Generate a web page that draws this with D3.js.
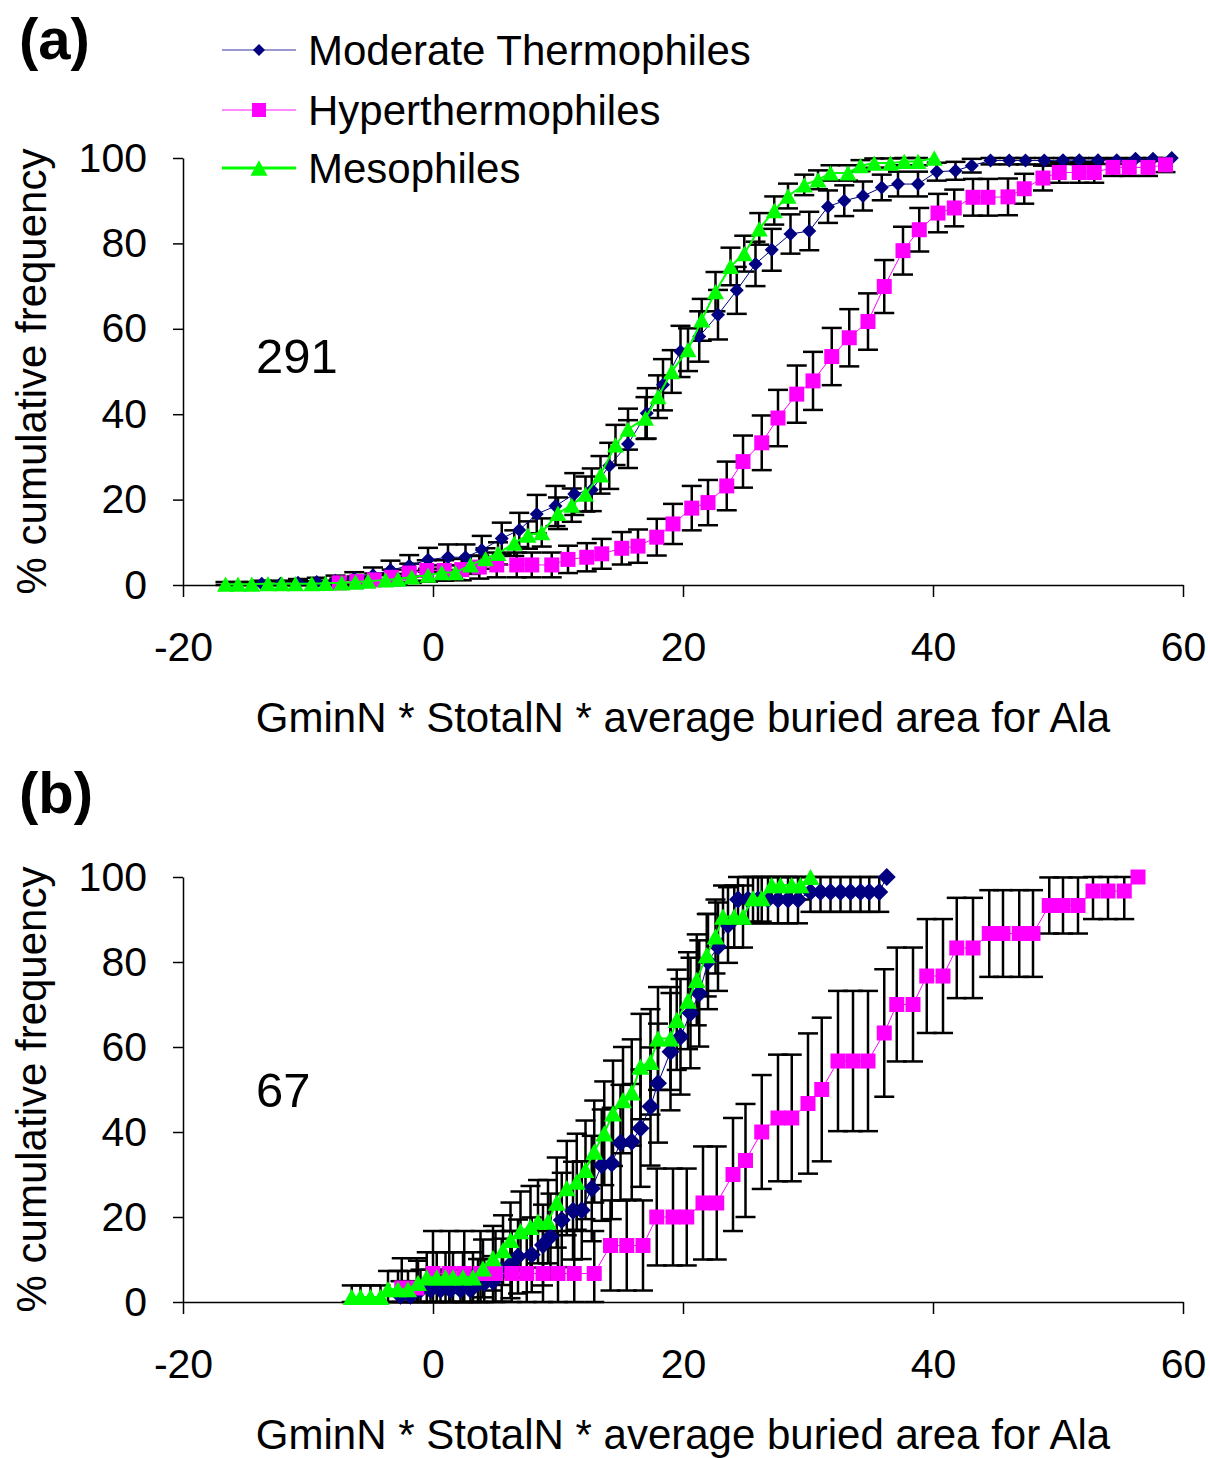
<!DOCTYPE html>
<html>
<head>
<meta charset="utf-8">
<script src="https://cdn.jsdelivr.net/npm/d3@7"></script>
<style>
body { margin: 0; background: #fff; }
text { font-family: "Liberation Sans", Arial, sans-serif; fill: #000; }
</style>
</head>
<body>
<script>
// series names and tick labels
const seriesNames = ['Moderate Thermophiles', 'Hyperthermophiles', 'Mesophiles'];
const xTicks = [-20, 0, 20, 40, 60];
const yTicks = [0, 20, 40, 60, 80, 100];
const panelLabels = ['(a)', '(b)'];
const panelCounts = ['291', '67'];
const xTitle = 'GminN * StotalN * average buried area for Ala';
const yTitle = '% cumulative frequency';

// panel (a) - moderate thermophiles
const aModX = [-13.7,-12.2,-10.8,-9.3,-7.8,-6.3,-4.8,-3.4,-1.9,-0.4,1.2,2.6,3.9,5.5,6.9,8.3,9.8,11.3,12.7,14.1,15.6,17.1,18.4,19.8,21.3,22.8,24.3,25.8,27.1,28.6,30.1,31.6,32.9,34.4,35.9,37.2,38.8,40.3,41.8,43.1,44.6,46.1,47.4,48.9,50.4,51.7,53.2,54.7,56.2,57.6,59.1];
const aModY = [0.3,0.3,0.5,0.7,1.0,1.5,2.3,3.5,4.5,5.9,6.5,6.5,8.2,10.9,12.9,16.6,18.5,21.3,22.3,27.9,33.0,40.2,46.9,54.7,58.2,63.3,69.0,75.2,78.5,82.2,82.9,88.6,90.0,91.1,93.1,93.9,93.9,96.8,97.0,98.2,99.4,99.4,99.4,99.4,99.5,99.5,99.5,99.5,99.8,99.8,100];
const aModErr = [0.7,0.7,0.9,1.0,1.2,1.5,1.8,2.2,2.5,2.8,3.0,3.0,3.3,3.7,4.0,4.5,4.7,4.9,5.0,5.4,5.6,5.9,6.0,6.0,5.9,5.8,5.5,5.2,4.9,4.6,4.5,3.8,3.6,3.4,3.0,2.9,2.9,2.1,2.1,1.6,0.9,0.9,0.9,0.9,0.9,0.9,0.9,0.9,0.5,0.5,0];

// panel (a) - hyperthermophiles
const aHypX = [-7.5,-6.1,-4.7,-3.3,-1.9,-0.5,0.9,2.3,3.7,5.1,6.7,7.9,9.5,10.8,12.3,13.5,15.1,16.4,17.9,19.2,20.7,22.0,23.5,24.8,26.3,27.6,29.1,30.4,31.9,33.3,34.8,36.1,37.6,38.9,40.4,41.7,43.2,44.4,46.0,47.3,48.8,50.1,51.7,52.9,54.4,55.7,57.2,58.6];
const aHypY = [0.5,0.8,1.2,1.8,2.8,3.4,3.4,3.6,4.2,4.7,4.7,4.7,4.7,6.0,6.5,7.3,8.6,9.1,11.2,14.3,18.0,19.3,23.2,28.9,33.3,39.1,44.7,47.8,53.5,57.9,61.7,69.9,78.3,83.2,87.1,88.3,90.8,90.8,90.9,92.8,95.3,96.6,96.6,96.6,97.8,97.8,97.8,98.4];
const aHypErr = [1.0,1.2,1.5,1.8,2.2,2.4,2.4,2.5,2.7,2.9,2.9,2.9,2.9,3.2,3.3,3.5,3.8,3.9,4.3,4.7,5.2,5.3,5.7,6.1,6.4,6.6,6.7,6.8,6.7,6.7,6.6,6.2,5.6,5.1,4.5,4.3,4.3,4.3,4.3,3.5,2.9,2.4,2.4,2.4,2.0,2.0,2.0,1.7];

// panel (a) - mesophiles
const aMesX = [-16.6,-15.6,-14.5,-13.2,-12.1,-11.0,-9.7,-8.6,-7.3,-6.2,-5.2,-3.8,-2.8,-1.7,-0.4,0.7,1.8,3.0,4.2,5.2,6.5,7.6,8.7,10.0,11.1,12.2,13.4,14.6,15.6,17.0,18.0,19.1,20.4,21.5,22.6,23.8,24.9,26.1,27.3,28.4,29.7,30.8,31.8,33.2,34.2,35.3,36.6,37.7,38.8,40.1];
const aMesY = [0.2,0.2,0.2,0.3,0.3,0.3,0.3,0.4,0.5,0.7,0.9,1.2,1.4,1.9,2.3,2.9,2.9,4.7,6.2,7.4,9.8,11.7,12.3,16.8,18.7,21.3,25.8,32.8,36.5,39.1,44.1,50.0,55.1,62.1,68.7,74.6,77.6,83.4,87.7,91.1,93.7,94.9,96.5,96.5,98.2,98.8,98.8,99.2,99.2,100];
const aMesErr = [0.5,0.5,0.5,0.6,0.6,0.6,0.6,0.6,0.7,0.8,0.9,1.1,1.2,1.4,1.5,1.7,1.7,2.1,2.4,2.6,3.0,3.2,3.3,3.7,3.9,4.1,4.4,4.7,4.8,4.9,5.0,5.0,5.0,4.9,4.6,4.4,4.2,3.7,3.3,2.9,2.4,2.2,1.8,1.8,1.3,1.1,1.1,0.9,0.9,0];

// panel (b) - moderate thermophiles
const bModX = [-2.6,-1.8,-1.0,-0.2,0.6,1.4,2.2,3.0,3.6,4.1,4.8,5.5,6.2,6.8,7.9,8.8,9.4,10.3,11.2,11.9,12.7,13.5,14.3,15.0,15.9,16.6,17.4,18.0,19.0,19.8,20.6,21.3,22.0,22.8,23.6,24.4,25.2,26.0,26.8,27.6,28.4,29.2,30.2,31.0,31.8,32.6,33.4,34.2,34.9,35.7,36.3];
const bModY = [1.5,1.5,2.9,2.9,2.9,2.9,2.9,2.9,4.4,4.4,4.8,7.5,8.8,10.7,11.1,13.4,15.4,19.3,21.5,21.6,26.7,32.2,32.6,37.5,37.7,40.9,46.0,51.5,58.9,62.4,68.0,72.6,80.1,83.6,88.7,94.7,94.7,94.7,94.7,94.7,94.7,94.7,96.5,96.5,96.5,96.5,96.5,96.5,96.5,96.5,100];
const bModErr = [3.4,3.4,4.7,4.7,4.7,4.7,4.7,4.7,5.7,5.7,6.0,7.4,7.9,8.7,8.8,9.5,10.1,11.1,11.5,11.5,12.4,13.1,13.1,13.6,13.6,13.8,13.9,14.0,13.8,13.6,13.0,12.5,11.2,10.4,8.9,5.6,5.6,5.6,5.6,5.6,5.6,5.6,4.7,4.7,4.7,4.7,4.7,4.7,4.7,4.7,0];

// panel (b) - hyperthermophiles
const bHypX = [-2.5,-1.3,0.0,1.3,2.5,3.8,5.0,6.3,7.5,8.8,10.0,11.3,12.9,14.2,15.5,16.8,17.9,19.2,20.3,21.6,22.7,24.0,25.0,26.3,27.6,28.7,30.0,31.1,32.4,33.6,34.8,36.1,37.1,38.4,39.5,40.8,41.9,43.2,44.5,45.6,46.9,48.0,49.3,50.4,51.6,52.8,54.0,55.3,56.4];
const bHypY = [3.3,3.3,6.7,6.7,6.7,6.7,6.7,6.7,6.7,6.7,6.7,6.7,6.7,13.3,13.3,13.3,20,20,20,23.3,23.3,30,33.3,40,43.3,43.3,46.7,50,56.7,56.7,56.7,63.3,70,70,76.7,76.7,83.3,83.3,86.7,86.7,86.7,86.7,93.3,93.3,93.3,96.7,96.7,96.7,100];
const bHypErr = [7,7,10,10,10,10,10,10,10,10,10,10,10,10.6,10.6,10.6,11.4,11.4,11.4,13.3,13.3,13.3,13.3,13.4,14.9,14.9,16.5,16.9,16.5,16.5,16.5,15,13.4,13.4,13.4,13.4,11.8,11.8,10.2,10.2,10.2,10.2,6.6,6.6,6.6,6.6,6.6,6.6,0];

// panel (b) - mesophiles
const bMesX = [-6.5,-5.8,-5.0,-4.2,-3.6,-2.8,-2.0,-1.2,-0.5,0.3,1.0,1.6,2.4,3.2,4.0,4.8,5.6,6.2,7.0,7.8,8.4,9.2,9.9,10.7,11.5,12.2,12.9,13.7,14.4,15.2,15.9,16.6,17.4,18.0,19.0,19.5,20.4,21.1,21.9,22.6,23.2,24.1,24.8,25.6,26.3,27.1,27.8,28.7,29.4,30.2];
const bMesY = [1.2,1.2,1.2,1.2,3.0,3.0,3.0,4.5,5.8,5.8,5.8,5.8,5.8,5.8,7.9,10.3,12.2,14.6,16.7,17.7,18.9,18.9,23.4,26.8,28.3,31.1,35.4,39.7,44.4,47.5,49.3,55.4,56.5,62.0,62.0,66.4,70.9,75.8,81.6,86.0,90.7,90.7,90.7,95.0,95.0,98.1,98.1,98.1,98.1,100];
const bMesErr = [2.7,2.7,2.7,2.7,4.3,4.3,4.3,5.2,5.9,5.9,5.9,5.9,5.9,5.9,6.8,7.6,8.2,8.8,9.3,9.6,9.8,9.8,10.6,11.1,11.3,11.6,12.0,12.2,12.4,12.5,12.5,12.4,12.4,12.1,12.1,11.8,11.4,10.7,9.7,8.7,7.3,7.3,7.3,5.5,5.5,3.4,3.4,3.4,3.4,0];

// styling
const colors = ['#000080', '#ff00ff', '#00ff00'];
const shapes = ['diamond', 'square', 'triangle'];
const lineWidths = [1, 1, 2];

function markerPath(shape, s) {
  const h = s / 2;
  if (shape === 'diamond') return `M0,${-h}L${h},0L0,${h}L${-h},0Z`;
  if (shape === 'square') return `M${-h},${-h}h${s}v${s}h${-s}Z`;
  const th = s * 0.9;
  return `M0,${-th / 2}L${h},${th / 2}L${-h},${th / 2}Z`;
}

const width = 1210, height = 1458;
const svg = d3.select('body').append('svg')
  .attr('width', width)
  .attr('height', height);

const panels = [
  { label: panelLabels[0], labelY: 59, top: 158, bottom: 585, count: panelCounts[0], countY: 373,
    sizes: [14, 15, 17],
    series: [[aModX, aModY, aModErr], [aHypX, aHypY, aHypErr], [aMesX, aMesY, aMesErr]] },
  { label: panelLabels[1], labelY: 813, top: 877, bottom: 1302, count: panelCounts[1], countY: 1107,
    sizes: [18, 15, 18],
    series: [[bModX, bModY, bModErr], [bHypX, bHypY, bHypErr], [bMesX, bMesY, bMesErr]] }
];

const left = 183, right = 1183;

panels.forEach((p) => {
  const x = d3.scaleLinear().domain([-20, 60]).range([left, right]);
  const y = d3.scaleLinear().domain([0, 100]).range([p.bottom, p.top]);
  const g = svg.append('g');

  // axes (plain hyphen for negative labels)
  const yAxis = g.append('g')
    .attr('transform', `translate(${left},0)`)
    .call(d3.axisLeft(y).tickValues(yTicks).tickFormat((d) => String(d))
      .tickSizeInner(10).tickSizeOuter(0).tickPadding(26));
  const xAxis = g.append('g')
    .attr('transform', `translate(0,${p.bottom})`)
    .call(d3.axisBottom(x).tickValues(xTicks).tickFormat((d) => String(d))
      .tickSizeInner(12).tickSizeOuter(0).tickPadding(35));
  [yAxis, xAxis].forEach((a) => {
    a.selectAll('path, line').attr('stroke', '#000').attr('stroke-width', 1.5);
    a.selectAll('text')
      .style('font-family', '"Liberation Sans", Arial, sans-serif')
      .style('font-size', '41px')
      .attr('fill', '#000');
  });

  // axis titles
  g.append('text')
    .attr('x', (left + right) / 2)
    .attr('y', p.bottom + 147)
    .attr('text-anchor', 'middle')
    .style('font-size', '42px')
    .text(xTitle);
  g.append('text')
    .attr('transform', `translate(46,${(p.top + p.bottom) / 2}) rotate(-90)`)
    .attr('text-anchor', 'middle')
    .style('font-size', '42px')
    .text(yTitle);

  // panel label and count
  g.append('text')
    .attr('x', 19)
    .attr('y', p.labelY)
    .style('font-size', '58px')
    .style('font-weight', 'bold')
    .text(p.label);
  g.append('text')
    .attr('x', 256)
    .attr('y', p.countY)
    .style('font-size', '49px')
    .text(p.count);

  const rows = p.series.map(([xs, ys, es]) => xs.map((v, i) => ({ x: v, y: ys[i], e: es[i] })));

  // error bars
  rows.forEach((data) => {
    const eb = g.append('g').attr('stroke', '#000').attr('stroke-width', 2.5);
    data.filter((d) => d.e > 0).forEach((d) => {
      const hi = y(Math.min(100, d.y + d.e));
      const lo = y(Math.max(0, d.y - d.e));
      const cx = x(d.x);
      eb.append('line').attr('x1', cx).attr('x2', cx).attr('y1', hi).attr('y2', lo);
      eb.append('line').attr('x1', cx - 10).attr('x2', cx + 10).attr('y1', hi).attr('y2', hi);
      eb.append('line').attr('x1', cx - 10).attr('x2', cx + 10).attr('y1', lo).attr('y2', lo);
    });
  });

  // lines and markers
  rows.forEach((data, si) => {
    const line = d3.line().x((d) => x(d.x)).y((d) => y(d.y));
    g.append('path')
      .datum(data)
      .attr('d', line)
      .attr('fill', 'none')
      .attr('stroke', colors[si])
      .attr('stroke-width', lineWidths[si]);
    g.append('g')
      .selectAll('path')
      .data(data)
      .enter()
      .append('path')
      .attr('transform', (d) => `translate(${x(d.x)},${y(d.y)})`)
      .attr('d', markerPath(shapes[si], p.sizes[si]))
      .attr('fill', colors[si]);
  });
});

// legend
const legendRows = [50, 110, 168];
const legendSizes = [12, 14, 17];
const legendLineWidths = [1, 1.5, 3];
const legendLineColors = ['#3333a0', '#ff66ff', '#00ff00'];
const legend = svg.append('g');
seriesNames.forEach((name, i) => {
  const ly = legendRows[i];
  legend.append('line')
    .attr('x1', 222).attr('x2', 296)
    .attr('y1', ly).attr('y2', ly)
    .attr('stroke', legendLineColors[i])
    .attr('stroke-width', legendLineWidths[i]);
  legend.append('path')
    .attr('transform', `translate(259,${ly})`)
    .attr('d', markerPath(shapes[i], legendSizes[i]))
    .attr('fill', colors[i]);
  legend.append('text')
    .attr('x', 308)
    .attr('y', ly + 15)
    .style('font-size', '42px')
    .text(name);
});
</script>
</body>
</html>
